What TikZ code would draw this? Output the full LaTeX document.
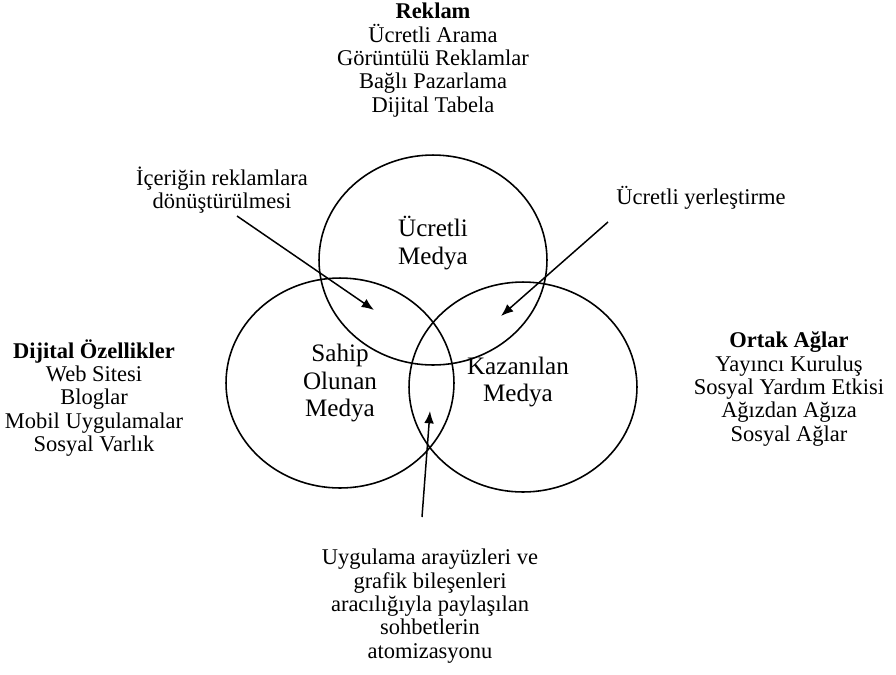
\documentclass[tikz,border=0pt]{standalone}
\usepackage{fontspec}
\setmainfont{Liberation Serif}
\usetikzlibrary{arrows.meta,positioning}
\tikzset{>={Latex[length=7pt,width=5.5pt]}}
\tikzset{%
    lbl/.style={align=center,inner sep=0pt,%
        font=\fontsize{12.8}{13.3}\selectfont},%
    mlbl/.style={align=center,inner sep=0pt,%
        font=\fontsize{14.3}{15.8}\selectfont},%
    venn/.style={draw,line width=0.9pt},%
    pointer/.style={->,line width=0.85pt}%
}
\newcommand{\Medya}[1]{%
  \draw[venn] #1 ellipse [x radius=2.28cm, y radius=2.1cm];
}

\begin{document}
\begin{tikzpicture}[x=0.02cm,y=-0.02cm]
    \useasboundingbox (0,0) rectangle (896,674);
    % the three media
    \Medya{(433,260)}
    \Medya{(340,383)}
    \Medya{(523,387)}
    \node[mlbl] (ucretliT) at (433,243) {Ücretli\\Medya};
    \node[mlbl] (sahipT) at (340,383) {Sahip\\Olunan\\Medya};
    \node[mlbl] (kazanT) at (518,382) {Kazanılan\\Medya};
    % outer lists
    \node[lbl] (reklam) at (433,60) {\textbf{Reklam}\\Ücretli Arama\\Görüntülü Reklamlar\\Bağlı Pazarlama\\Dijital Tabela};
    \node[lbl] (dijital) at (94,398) {\textbf{Dijital Özellikler}\\Web Sitesi\\Bloglar\\Mobil Uygulamalar\\Sosyal Varlık};
    \node[lbl] (ortak) at (789,389) {\textbf{Ortak Ağlar}\\Yayıncı Kuruluş\\Sosyal Yardım Etkisi\\Ağızdan Ağıza\\Sosyal Ağlar};
    % arrow labels
    \node[lbl] (icerik) at (222,190) {İçeriğin reklamlara\\dönüştürülmesi};
    \node[lbl] (yerles) at (701,198) {Ücretli yerleştirme};
    \node[lbl] (atom) at (430,606) {Uygulama arayüzleri ve\\grafik bileşenleri\\aracılığıyla paylaşılan\\sohbetlerin\\atomizasyonu};
    % arrows
    \coordinate (icerikS) at (237,216);
    \coordinate (icerikE) at (374,310);
    \coordinate (yerlesS) at (608,222);
    \coordinate (yerlesE) at (501,316);
    \coordinate (atomS) at (422,517);
    \coordinate (atomE) at (430,411);
    \draw[pointer] (icerikS) -- (icerikE);
    \draw[pointer] (yerlesS) -- (yerlesE);
    \draw[pointer] (atomS) -- (atomE);
\end{tikzpicture}
\end{document}
